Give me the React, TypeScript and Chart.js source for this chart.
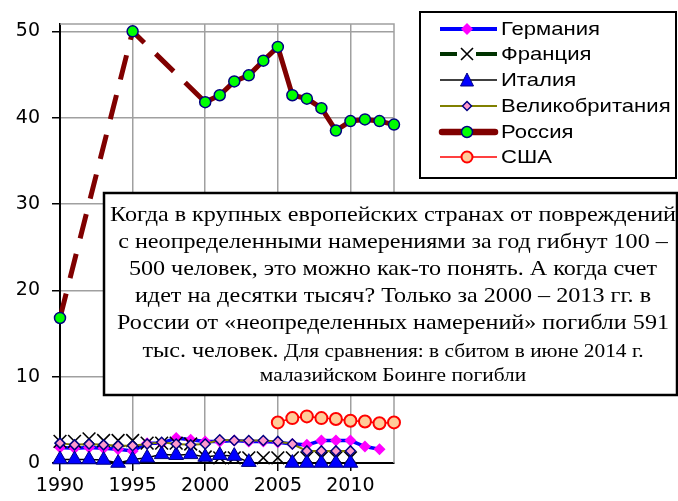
import React, { useEffect, useRef } from 'react';
import { Chart, registerables } from 'chart.js';

Chart.register(...registerables);

const years = [1990, 1991, 1992, 1993, 1994, 1995, 1996, 1997, 1998, 1999, 2000, 2001, 2002, 2003, 2004, 2005, 2006, 2007, 2008, 2009, 2010, 2011, 2012, 2013];
const germany = [1.8, 1.7, 1.8, 1.7, 1.6, 1.4, 2.3, 2.3, 2.9, 2.7, 2.5, 2.5, 2.6, 2.5, 2.5, 2.4, 2.2, 2.1, 2.6, 2.6, 2.6, 1.9, 1.6, null];
const france = [2.5, 2.5, 2.8, 2.6, 2.6, 2.6, 2.3, 2.3, 2.3, 2.2, 0.7, 0.6, 0.6, 0.6, 0.6, 0.6, 0.6, 0.6, 0.6, 0.6, 0.6, null, null, null];
const italy = [0.4, 0.4, 0.4, 0.35, 0.0, 0.4, 0.6, 1.0, 0.9, 1.0, 0.7, 0.9, 0.8, 0.1, null, null, 0.0, 0.0, 0.0, 0.0, 0.0, null, null, null];
const uk = [2.3, 2.1, 2.2, 2.1, 2.0, 2.0, 2.2, 2.4, 2.2, 2.1, 2.2, 2.7, 2.6, 2.6, 2.6, 2.5, 2.2, 1.4, 1.4, 1.4, 1.4, null, null, null];
const russia = [16.8, null, null, null, null, 50.0, null, null, null, null, 41.8, 42.6, 44.2, 44.9, 46.6, 48.2, 42.6, 42.2, 41.1, 38.5, 39.6, 39.8, 39.6, 39.2];
const usa = [null, null, null, null, null, null, null, null, null, null, null, null, null, null, null, 4.7, 5.2, 5.4, 5.2, 5.1, 4.9, 4.8, 4.6, 4.7];

const seriesNames = ['Германия', 'Франция', 'Италия', 'Великобритания', 'Россия', 'США'];
const xTickValues = [1990, 1995, 2000, 2005, 2010];
const yTickValues = [0, 10, 20, 30, 40, 50];

const noteLines = [
  'Когда в крупных европейских странах от повреждений',
  'с неопределенными намерениями за год гибнут 100 –',
  '500 человек, это можно как-то понять. А когда счет',
  'идет на десятки тысяч? Только за 2000 – 2013 гг. в',
  'России от «неопределенных намерений» погибли 591',
];
const noteMixedBig = 'тыс. человек.';
const noteMixedSmall = ' Для сравнения: в сбитом в июне 2014 г.';
const noteSmall = 'малазийском Боинге погибли';

const pts = (arr: (number | null)[]) => years.map((x, i) => ({ x, y: arr[i] }));

function drawScaledText(ctx: CanvasRenderingContext2D, t: string, x: number, y: number, sx: number, align: CanvasTextAlign) {
  ctx.save();
  ctx.translate(x, y);
  ctx.scale(sx, 1);
  ctx.textAlign = align;
  ctx.fillText(t, 0, 0);
  ctx.restore();
}

const framePlugin = {
  id: 'frame',
  beforeDatasetsDraw(chart: any) {
    const { ctx, chartArea: a } = chart;
    ctx.save();
    ctx.strokeStyle = '#a0a0a0';
    ctx.lineWidth = 1.5;
    ctx.beginPath();
    ctx.moveTo(a.left, a.top);
    ctx.lineTo(a.right, a.top);
    ctx.lineTo(a.right, a.bottom);
    ctx.stroke();
    ctx.restore();
  },
};

const overlayPlugin = {
  id: 'overlay',
  afterDraw(chart: any) {
    const ctx: CanvasRenderingContext2D = chart.ctx;
    ctx.save();
    // note box
    ctx.fillStyle = '#ffffff';
    ctx.fillRect(104, 193, 573, 202);
    ctx.strokeStyle = '#000';
    ctx.lineWidth = 2.5;
    ctx.strokeRect(104, 193, 573, 202);
    ctx.fillStyle = '#000';
    ctx.textBaseline = 'middle';
    const big = '21px "Liberation Serif"';
    const small = '18.6px "Liberation Serif"';
    ctx.font = big;
    const sx = 566 / ctx.measureText(noteLines[0]).width;
    const cx = 393;
    const ys = [215, 242, 269, 296, 323];
    noteLines.forEach((t, i) => drawScaledText(ctx, t, cx, ys[i], sx, 'center'));
    const wBig = ctx.measureText(noteMixedBig).width * sx;
    ctx.font = small;
    const wSmall = ctx.measureText(noteMixedSmall).width * sx;
    const start = cx - (wBig + wSmall) / 2;
    ctx.font = big;
    drawScaledText(ctx, noteMixedBig, start, 351, sx, 'left');
    ctx.font = small;
    drawScaledText(ctx, noteMixedSmall, start + wBig, 352, sx, 'left');
    drawScaledText(ctx, noteSmall, cx, 376, sx, 'center');

    // legend
    const lx = 420, ly = 12, lw = 256, lh = 166;
    ctx.fillStyle = '#ffffff';
    ctx.fillRect(lx, ly, lw, lh);
    ctx.strokeStyle = '#000';
    ctx.lineWidth = 2;
    ctx.strokeRect(lx, ly, lw, lh);
    const rows = [29, 54, 80, 106, 132, 157];
    const x0 = 440, x1 = 497, mx = 467;
    const line = (y: number, color: string, w: number, a = x0, b = x1, cap: CanvasLineCap = 'butt') => {
      ctx.beginPath();
      ctx.strokeStyle = color;
      ctx.lineWidth = w;
      ctx.lineCap = cap;
      ctx.moveTo(a, y);
      ctx.lineTo(b, y);
      ctx.stroke();
      ctx.lineCap = 'butt';
    };
    const diamond = (y: number, r: number, fill: string, stroke: string | null, bw: number) => {
      ctx.beginPath();
      ctx.moveTo(mx - r, y);
      ctx.lineTo(mx, y - r);
      ctx.lineTo(mx + r, y);
      ctx.lineTo(mx, y + r);
      ctx.closePath();
      ctx.fillStyle = fill;
      ctx.fill();
      if (stroke) { ctx.strokeStyle = stroke; ctx.lineWidth = bw; ctx.stroke(); }
    };
    const circle = (y: number, r: number, fill: string, stroke: string, bw: number) => {
      ctx.beginPath();
      ctx.arc(mx, y, r, 0, Math.PI * 2);
      ctx.fillStyle = fill;
      ctx.fill();
      ctx.strokeStyle = stroke;
      ctx.lineWidth = bw;
      ctx.stroke();
    };
    // Германия
    line(rows[0], '#0000ff', 4);
    diamond(rows[0], 6, '#ff00ff', null, 0);
    // Франция
    line(rows[1], '#003300', 4, x0, 457);
    line(rows[1], '#003300', 4, 476, x1);
    ctx.beginPath();
    ctx.strokeStyle = '#000';
    ctx.lineWidth = 1.6;
    ctx.moveTo(mx - 6, rows[1] - 6); ctx.lineTo(mx + 6, rows[1] + 6);
    ctx.moveTo(mx + 6, rows[1] - 6); ctx.lineTo(mx - 6, rows[1] + 6);
    ctx.stroke();
    // Италия
    line(rows[2], '#000', 1.5);
    ctx.beginPath();
    ctx.moveTo(mx, rows[2] - 7);
    ctx.lineTo(mx + 6.5, rows[2] + 6);
    ctx.lineTo(mx - 6.5, rows[2] + 6);
    ctx.closePath();
    ctx.fillStyle = '#0000ff';
    ctx.fill();
    ctx.strokeStyle = '#000080';
    ctx.lineWidth = 1;
    ctx.stroke();
    // Великобритания
    line(rows[3], '#808000', 2);
    diamond(rows[3], 4.5, '#ff99cc', '#000080', 1.5);
    // Россия
    line(rows[4], '#800000', 6.5, x0 + 2, x1 - 2, 'round');
    circle(rows[4], 5.5, '#00ff00', '#000080', 1.5);
    // США
    line(rows[5], '#ff0000', 1.5);
    circle(rows[5], 5.5, '#ffcc99', '#ff0000', 2);

    ctx.fillStyle = '#000';
    ctx.font = '18.5px "Liberation Sans"';
    ctx.textBaseline = 'middle';
    const lsx = 99 / ctx.measureText(seriesNames[0]).width;
    seriesNames.forEach((n, i) => drawScaledText(ctx, n, 501, rows[i] + 1, lsx, 'left'));
    ctx.restore();
  },
};

export default function App() {
  const ref = useRef<HTMLCanvasElement | null>(null);
  useEffect(() => {
    if (!ref.current) return;
    const tickFont = { family: '"DejaVu Sans"', size: 19 };
    const chart = new Chart(ref.current, {
      type: 'line',
      data: {
        datasets: [
          {
            label: seriesNames[0], data: pts(germany), order: 6, clip: false as any,
            borderColor: '#0000ff', borderWidth: 3.5,
            pointStyle: 'rectRot', pointRadius: 6, pointBackgroundColor: '#ff00ff', pointBorderColor: '#ff00ff', pointBorderWidth: 0,
          },
          {
            label: seriesNames[1], data: pts(france), order: 5, clip: false as any,
            showLine: false, borderColor: '#003300',
            pointStyle: 'crossRot', pointRadius: 9, pointBorderColor: '#000', pointBorderWidth: 1.6,
          },
          {
            label: seriesNames[2], data: pts(italy), order: 4, clip: false as any,
            borderColor: '#000', borderWidth: 1.5,
            pointStyle: 'triangle', pointRadius: 8.5, pointBackgroundColor: '#0000ff', pointBorderColor: '#000080', pointBorderWidth: 1,
          },
          {
            label: seriesNames[3], data: pts(uk), order: 3, clip: false as any,
            borderColor: '#808000', borderWidth: 2,
            pointStyle: 'rectRot', pointRadius: 5, pointBackgroundColor: '#ff99cc', pointBorderColor: '#000080', pointBorderWidth: 1.5,
          },
          {
            label: seriesNames[4], data: pts(russia), order: 2, clip: false as any,
            borderColor: '#800000', borderWidth: 5, spanGaps: true,
            segment: {
              borderDash: (c: any) => (c.p0.skip || c.p1.skip || c.p1DataIndex - c.p0DataIndex > 1) ? [25, 16] : undefined,
            },
            pointStyle: 'circle', pointRadius: 5.5, pointBackgroundColor: '#00ff00', pointBorderColor: '#000080', pointBorderWidth: 1.5,
          },
          {
            label: seriesNames[5], data: pts(usa), order: 1, clip: false as any,
            borderColor: '#ff0000', borderWidth: 1.5,
            pointStyle: 'circle', pointRadius: 6, pointBackgroundColor: '#ffcc99', pointBorderColor: '#ff0000', pointBorderWidth: 2,
          },
        ],
      },
      options: {
        animation: false,
        responsive: true,
        maintainAspectRatio: false,
        layout: { padding: { left: 0, top: 24, right: 284, bottom: 0 } },
        plugins: { legend: { display: false }, tooltip: { enabled: false } },
        elements: { line: { tension: 0 } },
        scales: {
          x: {
            type: 'linear', min: 1990, max: 2013,
            afterBuildTicks: (s: any) => { s.ticks = xTickValues.map((v) => ({ value: v })); },
            afterFit: (s: any) => { s.height = 38; },
            grid: { color: '#a0a0a0', lineWidth: 1.5, tickColor: '#000', tickLength: 8, drawTicks: true },
            border: { color: '#000', width: 2 },
            ticks: { font: tickFont, color: '#000', padding: 4, maxRotation: 0, autoSkip: false, callback: (v: any) => String(v) },
          },
          y: {
            type: 'linear', min: 0, max: 50.85,
            afterBuildTicks: (s: any) => { s.ticks = yTickValues.map((v) => ({ value: v })); },
            afterFit: (s: any) => { s.width = 60; },
            grid: { color: '#a0a0a0', lineWidth: 1.5, tickColor: '#000', tickLength: 8, drawTicks: true },
            border: { color: '#000', width: 2 },
            ticks: { font: tickFont, color: '#000', padding: 12, callback: (v: any) => String(v) },
          },
        },
      },
      plugins: [framePlugin, overlayPlugin],
    } as any);
    return () => chart.destroy();
  }, []);
  return (
    <div style={{ position: 'absolute', left: 0, top: 0, width: 678, height: 501, background: '#fff' }}>
      <canvas ref={ref} />
    </div>
  );
}
